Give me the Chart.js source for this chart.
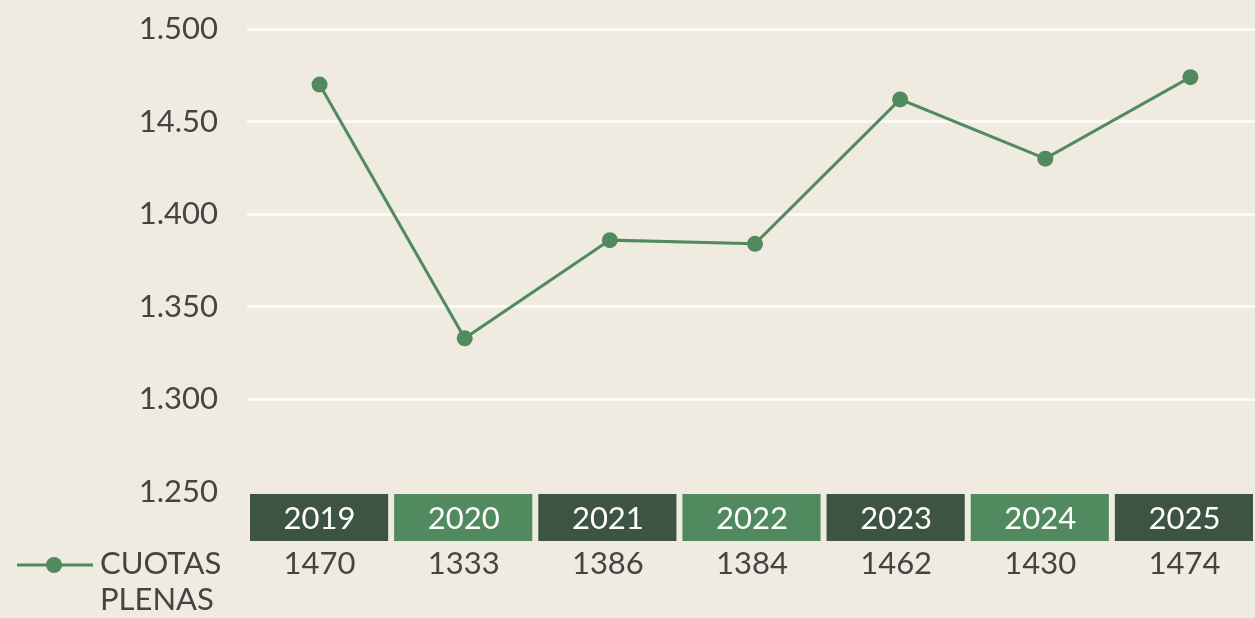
<!DOCTYPE html>
<html lang="es">
  <head>
    <meta charset="UTF-8" />
    <title>Cuotas plenas</title>
    <script src="https://cdn.jsdelivr.net/npm/chart.js"></script>
    <style>
      html, body { margin: 0; padding: 0; background: #f0ebe0; overflow: hidden; }
      /* the plot runs a few px past the right edge of the window, like the original */
      #wrap { width: 1263px; height: 618px; position: relative; }
    </style>
  </head>
  <body>
    <div id="wrap"><canvas id="chart"></canvas></div>

    <script>
      // data
      const years = ['2019', '2020', '2021', '2022', '2023', '2024', '2025'];
      const cuotasPlenas = [1470, 1333, 1386, 1384, 1462, 1430, 1474];
      const tickValues = [1250, 1300, 1350, 1400, 1450, 1500];
      const tickLabels = ['1.250', '1.300', '1.350', '1.400', '14.50', '1.500'];
      const seriesName = ['CUOTAS', 'PLENAS'];

      const FONT = 'Lato, "Noto Sans", sans-serif';
      const textGrey = '#444444';
      const lineGreen = '#528a5f';
      const boxColors = ['#3d5442', '#528a5f'];

      // draws the data table under the chart + the legend on its left
      const tablePlugin = {
        id: 'dataTable',
        afterDraw(chart) {
          const ctx = chart.ctx;
          const xs = chart.scales.x;
          const pitch = xs.getPixelForTick(1) - xs.getPixelForTick(0);
          ctx.save();
          ctx.font = '31px ' + FONT;
          ctx.textAlign = 'center';
          ctx.textBaseline = 'middle';
          years.forEach((y, i) => {
            const cx = xs.getPixelForTick(i) - i;
            ctx.fillStyle = boxColors[i % 2];
            ctx.fillRect(cx - pitch / 2 + 3, 494, pitch - 7, 47);
            ctx.fillStyle = '#ffffff';
            ctx.fillText(y, cx, 519);
            ctx.fillStyle = textGrey;
            ctx.fillText(String(cuotasPlenas[i]), cx, 564);
          });

          // legend
          ctx.strokeStyle = lineGreen;
          ctx.lineWidth = 3;
          ctx.beginPath();
          ctx.moveTo(17, 565);
          ctx.lineTo(93, 565);
          ctx.stroke();
          ctx.fillStyle = lineGreen;
          ctx.beginPath();
          ctx.arc(54, 565, 8, 0, Math.PI * 2);
          ctx.fill();
          ctx.fillStyle = textGrey;
          ctx.textAlign = 'left';
          ctx.fillText(seriesName[0], 100, 564);
          ctx.fillText(seriesName[1], 100, 600);
          ctx.restore();
        }
      };

      new Chart(document.getElementById('chart'), {
        type: 'line',
        data: {
          labels: years,
          datasets: [{
            label: seriesName.join(' '),
            data: cuotasPlenas,
            borderColor: lineGreen,
            backgroundColor: lineGreen,
            borderWidth: 3,
            pointRadius: 8,
            pointHoverRadius: 8,
            pointBorderWidth: 0,
            tension: 0,
            clip: false
          }]
        },
        options: {
          responsive: true,
          maintainAspectRatio: false,
          animation: false,
          layout: { autoPadding: false, padding: { top: 29, bottom: 126, right: 0, left: 0 } },
          plugins: { legend: { display: false }, tooltip: { enabled: false } },
          scales: {
            x: {
              display: false,
              offset: true
            },
            y: {
              min: 1250,
              max: 1500,
              afterFit(scale) {
                scale.width = 247;
                scale.paddingTop = 0;
                scale.paddingBottom = 0;
              },
              afterBuildTicks(scale) { scale.ticks = tickValues.map(v => ({ value: v })); },
              border: { display: false },
              grid: {
                drawTicks: false,
                lineWidth: 3,
                color: c => (c.tick && c.tick.value === 1250) ? 'rgba(0,0,0,0)' : '#fbfaf6'
              },
              ticks: {
                padding: 29,
                color: textGrey,
                font: { family: FONT, size: 31 },
                callback: (v) => tickLabels[tickValues.indexOf(v)]
              }
            }
          }
        },
        plugins: [tablePlugin]
      });
    </script>
  </body>
</html>
